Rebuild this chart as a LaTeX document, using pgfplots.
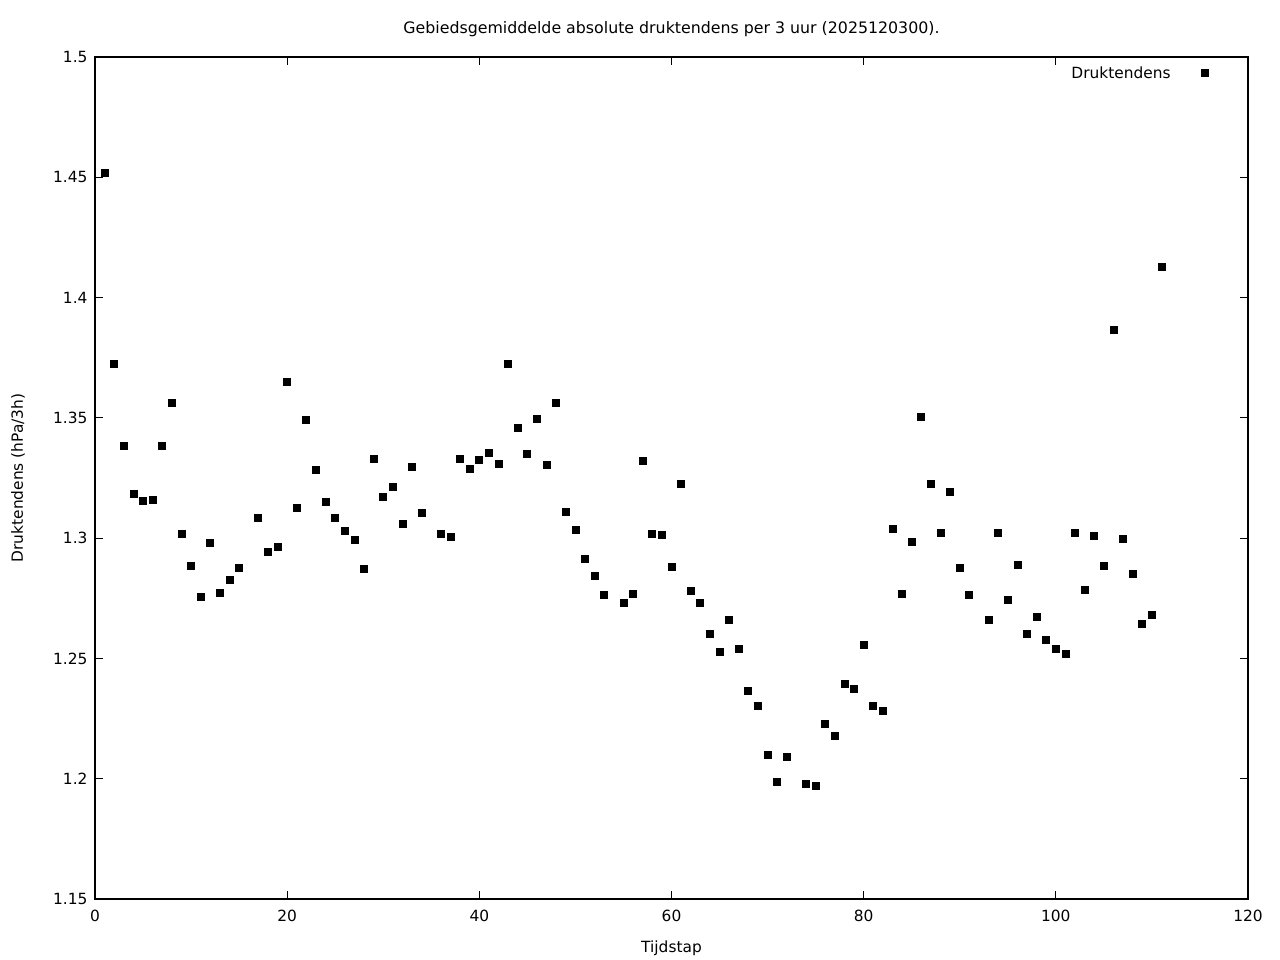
\documentclass[border=0pt]{standalone}
\usepackage{fontspec}
\setmainfont{DejaVu Sans}
\usepackage{pgfplots}
\pgfplotsset{compat=1.18}
\begin{document}
\fontsize{7.7bp}{9bp}\selectfont
\begin{tikzpicture}
\useasboundingbox (0,0) rectangle (640bp,480bp);
\begin{axis}[
  at={(47.5bp,30.5bp)}, anchor=south west,
  scale only axis, width=576.5bp, height=421bp,
  xmin=0, xmax=120, ymin=1.15, ymax=1.5,
  xtick={0,20,...,120},
  ytick={1.15,1.2,1.25,1.3,1.35,1.4,1.45,1.5},
  yticklabels={1.15,1.2,1.25,1.3,1.35,1.4,1.45,1.5},
  tick align=inside, major tick length=4bp,
  tick style={black, line width=0.5bp},
  axis line style={line width=0.6bp},
  /pgf/number format/assume math mode=true,
  tick label style={font=\fontsize{7.7bp}{9bp}\selectfont},
  xticklabel style={yshift=-3bp},
  yticklabel style={xshift=-1bp},
  label style={font=\fontsize{7.7bp}{9bp}\selectfont},
  xlabel={Tijdstap}, ylabel={Druktendens (hPa/3h)},
  xlabel style={at={(0.5,0)}, anchor=center, yshift=-24.5bp},
  ylabel style={at={(0,0.5)}, anchor=center, rotate=0, yshift=38.5bp},
  title={Gebiedsgemiddelde absolute druktendens per 3 uur (2025120300).},
  title style={font=\fontsize{7.9bp}{9bp}\selectfont, at={(0.5,1)}, anchor=center, yshift=8bp},
  legend style={at={(1,1)}, anchor=north east, draw=none, fill=none, xshift=-16.5bp, yshift=-0.5bp,
    font=\fontsize{7.7bp}{9bp}\selectfont,
    /tikz/every odd column/.style={column sep=13.5bp}},
  legend cell align=right,
  legend plot pos=right,
  clip=false,
]
\addplot[only marks, mark=square*, mark size=1.75bp, black] coordinates {
(1,1.4518) (2,1.3724) (3,1.3383) (4,1.3183) (5,1.3154) (6,1.3158) (7,1.3383) (8,1.3562)
(9,1.3017) (10,1.2884) (11,1.2755) (12,1.2980) (13,1.2772) (14,1.2826) (15,1.2876)
(17,1.3084) (18,1.2942) (19,1.2963) (20,1.3649) (21,1.3125) (22,1.3491) (23,1.3283)
(24,1.3150) (25,1.3084) (26,1.3030) (27,1.2992) (28,1.2872) (29,1.3329) (30,1.3171)
(31,1.3213) (32,1.3059) (33,1.3296) (34,1.3105) (36,1.3017) (37,1.3005) (38,1.3329)
(39,1.3287) (40,1.3325) (41,1.3354) (42,1.3308) (43,1.3724) (44,1.3458) (45,1.3350)
(46,1.3495) (47,1.3304) (48,1.3562) (49,1.3109) (50,1.3034) (51,1.2913) (52,1.2843)
(53,1.2764) (55,1.2730) (56,1.2768) (57,1.3321) (58,1.3017) (59,1.3013) (60,1.2880)
(61,1.3225) (62,1.2780) (63,1.2730) (64,1.2602) (65,1.2527) (66,1.2660) (67,1.2539)
(68,1.2365) (69,1.2302) (70,1.2099) (71,1.1986) (72,1.2090) (74,1.1978) (75,1.1970)
(76,1.2227) (77,1.2178) (78,1.2394) (79,1.2373) (80,1.2556) (81,1.2302) (82,1.2281)
(83,1.3038) (84,1.2768) (85,1.2984) (86,1.3504) (87,1.3225) (88,1.3021) (89,1.3192)
(90,1.2876) (91,1.2764) (93,1.2660) (94,1.3021) (95,1.2743) (96,1.2888) (97,1.2602)
(98,1.2672) (99,1.2577) (100,1.2539) (101,1.2519) (102,1.3021) (103,1.2784) (104,1.3009)
(105,1.2884) (106,1.3865) (107,1.2996) (108,1.2851) (109,1.2643) (110,1.2681) (111,1.4127)
};
\addlegendentry{Druktendens}
\end{axis}
\end{tikzpicture}
\end{document}
